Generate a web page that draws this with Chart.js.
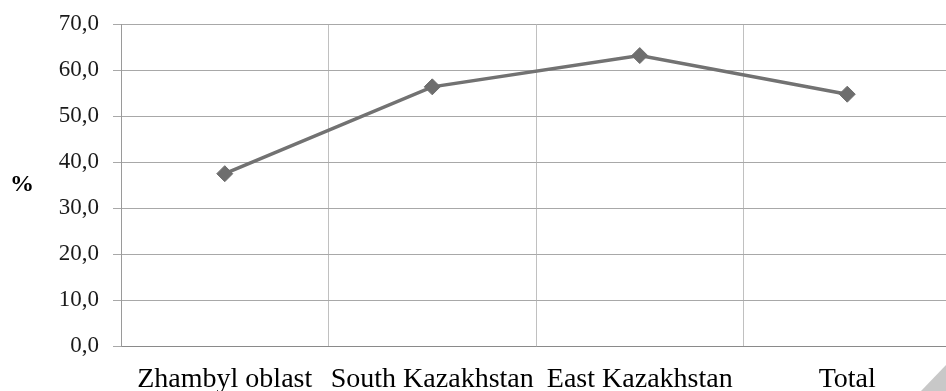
<!DOCTYPE html>
<html>
<head>
<meta charset="utf-8">
<script src="https://cdn.jsdelivr.net/npm/chart.js@4.4.1/dist/chart.umd.min.js"></script>
<style>
  html, body { margin: 0; padding: 0; background: #fff; overflow: hidden; width: 946px; height: 391px; }
  #wrap { position: relative; width: 946px; height: 391px; overflow: hidden; }
  #chart { position: absolute; left: 0; top: 0; }
  #corner {
    position: absolute; right: 0; bottom: 0; width: 25px; height: 26px;
    background: #c8c8c8; clip-path: polygon(100% 0, 100% 100%, 0 100%);
  }
</style>
</head>
<body>
<div id="wrap">
  <canvas id="chart" width="960" height="400"></canvas>
  <div id="corner"></div>
</div>
<script>
// Share of respondents by region, %
const categories = ["Zhambyl oblast", "South Kazakhstan", "East Kazakhstan", "Total"];
const shareValues = [37.5, 56.4, 63.2, 54.8];
const yAxisTitle = "%";

const serif = "'Liberation Serif', 'Times New Roman', serif";

// Upright axis title to the left of the value labels
const sideTitle = {
  id: 'sideTitle',
  afterDraw(chart) {
    const { ctx, chartArea } = chart;
    ctx.save();
    ctx.font = "bold 24px " + serif;
    ctx.fillStyle = "#000";
    ctx.textAlign = "center";
    ctx.textBaseline = "middle";
    ctx.fillText(yAxisTitle, 22, (chartArea.top + chartArea.bottom) / 2);
    ctx.restore();
  }
};

new Chart(document.getElementById('chart'), {
  type: 'line',
  data: {
    labels: categories,
    datasets: [{
      data: shareValues,
      borderColor: '#727272',
      backgroundColor: '#727272',
      borderWidth: 3.5,
      pointStyle: 'rectRot',
      pointRadius: 8,
      pointBorderWidth: 1,
      pointBackgroundColor: '#6e6e6e',
      pointBorderColor: '#6e6e6e',
      tension: 0,
      fill: false
    }]
  },
  options: {
    responsive: false,
    animation: false,
    devicePixelRatio: 1,
    layout: { padding: { left: 0, top: 24, right: 3, bottom: 0 } },
    plugins: {
      legend: { display: false },
      tooltip: { enabled: false },
      title: { display: false }
    },
    scales: {
      x: {
        offset: true,
        afterFit(scale) { scale.height = 54; },
        grid: { offset: true, color: '#c0c0c0', lineWidth: 1, drawTicks: false },
        border: { color: '#8a8a8a', width: 1 },
        ticks: {
          font: { family: serif, size: 28 },
          color: '#000',
          padding: 17,
          maxRotation: 0,
          autoSkip: false
        }
      },
      y: {
        min: 0,
        max: 70,
        afterFit(scale) { scale.width = 121; },
        grid: { color: '#a8a8a8', lineWidth: 1, tickLength: 8 },
        border: { color: '#9a9a9a', width: 1 },
        ticks: {
          stepSize: 10,
          font: { family: serif, size: 23, lineHeight: 0.9 },
          color: '#1a1a1a',
          padding: 14,
          callback: (v) => v.toFixed(1).replace('.', ',')
        }
      }
    }
  },
  plugins: [sideTitle]
});
</script>
</body>
</html>
